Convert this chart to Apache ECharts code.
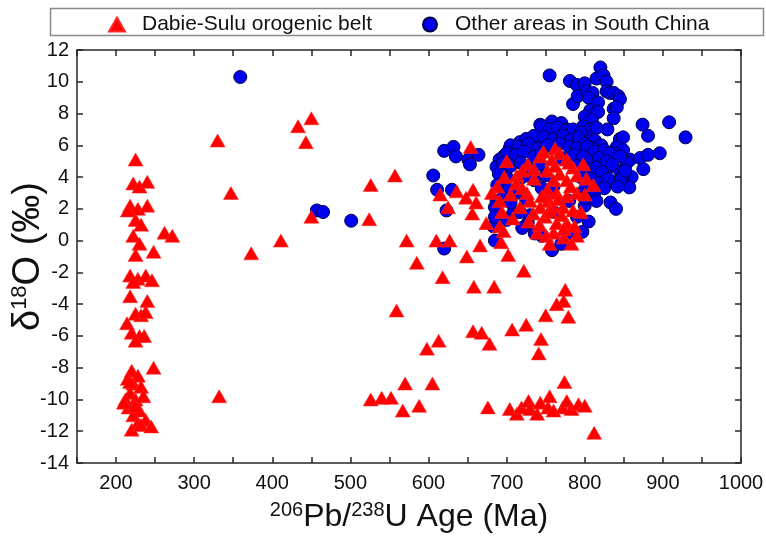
<!DOCTYPE html>
<html>
<head>
<meta charset="utf-8">
<script src="https://cdn.jsdelivr.net/npm/echarts@6/dist/echarts.min.js"></script>
<style>html,body{margin:0;padding:0;background:#fff}#c{width:766px;height:538px}</style>
</head>
<body>
<div id="c"></div>
<script>
// Age (Ma) vs delta18O (permil)
const xTicks = [200, 300, 400, 500, 600, 700, 800, 900, 1000];
const yTicks = [-14, -12, -10, -8, -6, -4, -2, 0, 2, 4, 6, 8, 10, 12];
const seriesNames = ['Dabie-Sulu orogenic belt', 'Other areas in South China'];

const dabieSulu = [
  [225,5.1],[222,3.6],[230,3.4],[240,3.7],[218,2.2],[228,2.0],[240,2.2],[215,1.9],[225,1.3],[232,1.0],
  [222,0.3],[230,-0.2],[262,0.5],[272,0.3],[248,-0.7],[225,-0.9],[218,-2.2],[228,-2.4],[238,-2.2],[222,-2.6],
  [246,-2.5],[240,-3.8],[218,-3.5],[225,-4.6],[232,-4.7],[238,-4.5],[214,-5.2],[220,-5.8],[230,-6.0],[236,-6.0],
  [225,-6.3],[248,-8.0],[220,-8.2],[228,-8.5],[215,-8.7],[222,-9.0],[232,-9.2],[218,-9.6],[212,-10.0],[225,-10.0],
  [235,-9.8],[216,-10.5],[230,-10.7],[222,-11.0],[238,-11.3],[228,-11.5],[220,-11.9],[232,-11.6],[245,-11.7],[210,-10.2],
  [224,-10.4],[218,-8.9],
  [330,6.3],[347,3.0],[373,-0.8],[411,0.0],[433,7.2],[443,6.2],[450,7.7],[450,1.5],[332,-9.8],
  [557,4.1],[526,3.5],[524,1.35],[654,5.9],[727,4.8],[615,2.9],[636,3.1],[657,3.2],[648,2.7],[661,2.4],
  [625,2.1],[656,1.7],[674,1.1],[572,0.0],[610,0.0],[627,0.0],[666,-0.3],[585,-1.4],[649,-1.0],[693,-0.1],
  [702,-0.9],[618,-2.3],[658,-2.9],[684,-2.9],[722,-1.9],[559,-4.4],[775,-3.1],[773,-3.8],[764,-4.0],[779,-4.8],
  [750,-4.7],[725,-5.3],[707,-5.6],[744,-6.2],[741,-7.1],[657,-5.7],[668,-5.8],[678,-6.5],[613,-6.3],[598,-6.8],
  [570,-9.0],[605,-9.0],[774,-8.9],[526,-10.0],[540,-9.9],[552,-9.9],[567,-10.7],[588,-10.4],[676,-10.5],[812,-12.1],
  [704,-10.6],[713,-10.9],[719,-10.5],[728,-10.1],[730,-10.6],[739,-10.9],[743,-10.2],[753,-10.5],[755,-9.8],[760,-10.7],
  [772,-10.5],[777,-10.1],[783,-10.6],[792,-10.3],[800,-10.4],
  [697,4.0],[688,3.4],[681,3.0],[691,2.5],[694,1.8],[691,0.9],[696,0.6],[713,4.1],[712,3.6],[726,3.0],
  [730,2.5],[717,2.1],[743,2.1],[734,1.7],[749,1.5],[739,0.5],[760,0.5],[773,0.2],[751,0.3],[743,5.3],
  [747,5.6],[762,5.8],[768,5.5],[758,5.1],[777,5.1],[785,4.6],[752,4.4],[768,4.2],[760,3.8],[777,3.8],
  [752,3.2],[764,3.0],[777,2.8],[790,3.0],[753,2.5],[772,2.1],[785,1.9],[764,1.1],[777,1.1],[787,0.9],
  [773,0.7],[790,0.3],[798,4.8],[802,3.9],[811,3.5],[800,2.9],
  [720,3.3],[735,3.9],[745,2.8],[758,2.2],[766,2.6],[782,3.4],[770,1.6],[756,1.8],[742,1.0],[728,1.2],
  [705,2.9],[708,1.4],[780,4.9],[795,1.8],[790,4.1],[735,4.5],[762,4.7],[700,5.0],[720,4.4],[755,-0.2],[783,-0.2]
];

const otherSouthChina = [
  [359,10.3],[457,1.9],[465,1.8],[501,1.25],[755,10.4],[620,5.65],[632,5.9],[635,5.3],[651,5.1],[653,4.8],
  [664,5.4],[606,4.1],[611,3.2],[630,3.2],[623,1.9],[620,-0.5],[685,0.0],[683,0.9],[727,1.1],[736,0.45],
  [758,-0.6],[700,4.0],[695,4.6],[691,5.1],[687,2.5],[685,2.1],[708,1.7],[717,1.8],[685,1.5],
  [781,10.05],[790,9.8],[785,8.6],[791,9.1],[758,7.5],[770,7.4],[743,7.3],[777,7.0],[738,6.5],[717,6.2],
  [704,5.8],[696,5.3],[687,4.65],
  [820,10.9],[815,10.2],[824,10.4],[828,10.0],[800,9.9],[802,9.4],[810,9.3],[805,9.0],[828,9.4],[832,9.3],
  [837,9.3],[843,9.1],[845,8.9],[817,8.7],[837,8.3],[841,8.4],[807,8.2],[813,8.0],[817,8.1],[837,7.7],
  [800,7.8],[809,7.6],[874,7.3],[908,7.45],[881,6.6],[929,6.5],[829,7.0],[845,6.4],[849,6.5],[798,7.2],
  [807,7.0],[815,7.1],[802,6.4],[813,6.3],[821,6.0],[811,5.8],[841,5.9],[849,5.7],[858,5.1],[854,4.9],
  [839,5.5],[837,5.3],[871,5.2],[881,5.4],[896,5.5],[875,4.5],[860,4.0],[857,3.35],[845,4.4],[849,4.1],
  [835,3.7],[845,3.8],[830,4.6],[824,5.1],[833,2.4],[800,2.2],[797,0.55],
  [745,7.2],[755,7.0],[765,7.1],[775,6.9],[785,7.0],[795,6.8],
  [725,6.4],[735,6.6],[748,6.5],[760,6.4],[772,6.6],[782,6.3],[792,6.5],[800,6.1],
  [705,6.0],[715,5.9],[728,6.1],[740,5.8],[752,6.0],[768,6.1],[780,5.9],[790,5.8],[803,5.9],[812,5.6],[825,5.7],[832,5.5],
  [700,5.5],[712,5.4],[722,5.6],[735,5.3],[745,5.5],[770,5.2],[786,5.4],[798,5.3],[808,5.0],[818,5.2],[828,5.0],[845,5.3],
  [695,4.9],[705,4.7],[718,4.9],[730,4.5],[742,4.8],[790,4.7],[805,4.5],[815,4.6],[822,4.3],[835,4.8],[852,4.4],
  [690,4.2],[700,3.9],[720,4.0],[735,3.8],[750,4.1],[795,4.0],[808,3.9],[818,3.6],[830,3.9],[842,3.4],
  [688,3.5],[702,3.2],[712,3.0],[745,3.3],[760,3.4],[800,3.2],[812,3.0],[825,3.3],
  [695,2.7],[705,2.4],[725,2.6],[750,2.8],[780,2.5],[800,2.7],[815,2.5],[840,2.0],
  [700,1.3],[730,1.6],[760,1.8],[790,1.5],[805,1.2],
  [720,0.8],[745,0.3],[770,-0.2],[785,0.4]
];

const FONT = 'Arial, "Liberation Sans", sans-serif';
const axisColor = '#262626';

const chart = echarts.init(document.getElementById('c'), null, {renderer: 'canvas'});
const baseX = {
  type: 'value', min: 150, max: 1000, interval: 50,
  axisLine: {show: true, onZero: false, lineStyle: {color: axisColor, width: 1.5}},
  axisTick: {show: true, inside: true, length: 6, lineStyle: {color: axisColor, width: 1.5}},
  splitLine: {show: false}
};
const baseY = {
  type: 'value', min: -14, max: 12, interval: 2,
  axisLine: {show: true, onZero: false, lineStyle: {color: axisColor, width: 1.5}},
  axisTick: {show: true, inside: true, length: 6, lineStyle: {color: axisColor, width: 1.5}},
  splitLine: {show: false}
};

chart.setOption({
  animation: false,
  backgroundColor: '#fff',
  textStyle: {fontFamily: FONT},
  grid: {left: 77, right: 25, top: 50, bottom: 75, containLabel: false, outerBoundsMode: 'none'},
  graphic: [{
    type: 'rect', left: 48, top: 6, z: 0,
    shape: {width: 713, height: 27},
    style: {fill: 'none', stroke: '#8a8a8a', lineWidth: 1.5}
  }],
  legend: {
    left: 103, top: 9, itemWidth: 16, itemHeight: 14, itemGap: 50,
    textStyle: {fontSize: 21, color: '#111', fontFamily: FONT, padding: [0, 0, 0, 12]},
    data: [
      {name: seriesNames[0], icon: 'triangle'},
      {name: seriesNames[1], icon: 'circle'}
    ]
  },
  xAxis: [
    Object.assign({}, baseX, {
      position: 'bottom',
      axisLabel: {
        show: true, margin: 10, fontSize: 20, color: '#111', fontFamily: FONT,
        formatter: v => (xTicks.indexOf(v) >= 0 ? String(v) : '')
      },
      name: '{s|206}{n|Pb/}{s|238}{n|U Age (Ma)}',
      nameLocation: 'middle', nameGap: 37, nameMoveOverlap: false,
      nameTextStyle: {
        fontFamily: FONT, color: '#111',
        rich: {
          s: {fontSize: 20, fontFamily: FONT, color: '#111', verticalAlign: 'top', lineHeight: 34, padding: [0, 0, 12, 0]},
          n: {fontSize: 32, fontFamily: FONT, color: '#111', lineHeight: 34}
        }
      }
    }),
    Object.assign({}, baseX, {position: 'top', axisLabel: {show: false}})
  ],
  yAxis: [
    Object.assign({}, baseY, {
      position: 'left',
      axisLabel: {show: true, margin: 8, fontSize: 20, color: '#111', fontFamily: FONT,
        formatter: v => (yTicks.indexOf(v) >= 0 ? String(v) : '')},
      name: '{n|δ}{s|18}{n|O (‰)}',
      nameLocation: 'middle', nameGap: 28, nameRotate: 90, nameMoveOverlap: false,
      nameTextStyle: {
        fontFamily: FONT, color: '#111',
        rich: {
          s: {fontSize: 22, fontFamily: FONT, color: '#111', verticalAlign: 'top', lineHeight: 40, padding: [0, 0, 14, 0]},
          n: {fontSize: 38, fontFamily: FONT, color: '#111', lineHeight: 40}
        }
      }
    }),
    Object.assign({}, baseY, {position: 'right', axisLabel: {show: false}})
  ],
  series: [
    {
      name: seriesNames[0], type: 'scatter', xAxisIndex: 0, yAxisIndex: 0,
      symbol: 'triangle', symbolSize: [15, 13], z: 3,
      itemStyle: {color: '#ff0000', borderColor: '#ff2a2a', borderWidth: 0.5, opacity: 1},
      data: dabieSulu
    },
    {
      name: seriesNames[1], type: 'scatter', xAxisIndex: 0, yAxisIndex: 0,
      symbol: 'circle', symbolSize: 13, z: 2,
      itemStyle: {color: '#0000f0', borderColor: '#00004d', borderWidth: 1, opacity: 1},
      data: otherSouthChina
    }
  ]
});
</script>
</body>
</html>
